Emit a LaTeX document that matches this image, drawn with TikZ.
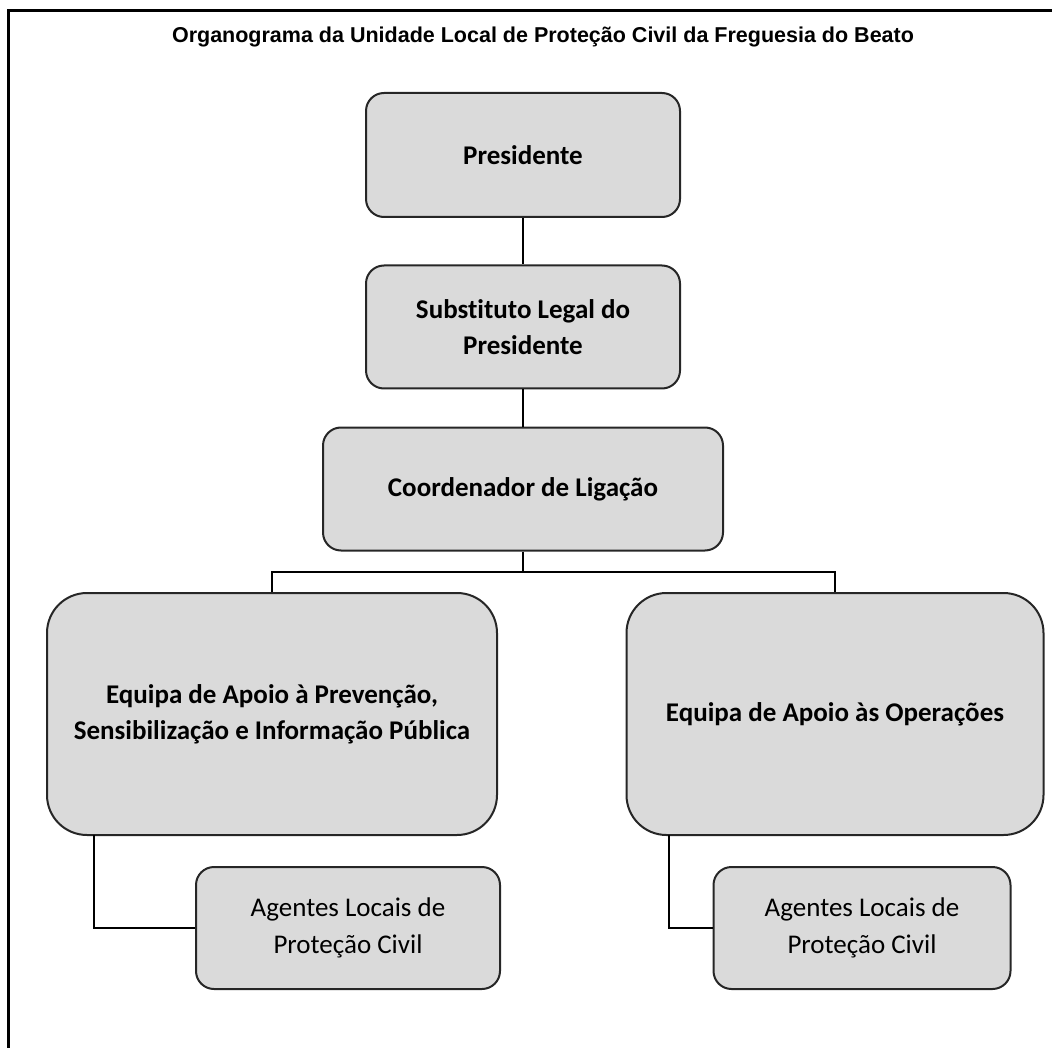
\documentclass[tikz,border=0pt]{standalone}
\usepackage{fontspec}
\setmainfont{Carlito}[Ligatures=NoCommon]
\newfontfamily\titlefont{Liberation Sans}
\usepackage{xcolor}
\usetikzlibrary{calc}
\definecolor{boxgrey}{HTML}{DADADA}
\definecolor{boxline}{HTML}{262626}
\tikzstyle{orgbox}=[draw=boxline, line width=2pt, fill=boxgrey, rounded corners=18pt, align=center, inner sep=0pt, font=\fontsize{27}{36}\selectfont\bfseries]
\tikzstyle{teambox}=[orgbox, rounded corners=40pt]
\tikzstyle{agentbox}=[orgbox, font=\fontsize{27}{37}\selectfont]
\tikzstyle{link}=[line width=2pt, black]

\begin{document}
\begin{tikzpicture}[x=1pt, y=-1pt]
\useasboundingbox (0,0) rectangle (1052,1048);
\clip (0,0) rectangle (1052,1048);
\draw[line width=3pt] (8,11) rectangle (1070,1070);
\node[font=\titlefont\bfseries\fontsize{21.5}{26}\selectfont] (title) at (543,37) {Organograma da Unidade Local de Proteção Civil da Freguesia do Beato};
% top of the chart
\node[orgbox, minimum width=314pt, minimum height=124pt] (pres) at (523,155) {Presidente};
\node[orgbox, minimum width=314pt, minimum height=123pt] (subst) at (523,327) {Substituto Legal do\\Presidente};
\node[orgbox, minimum width=400pt, minimum height=123pt] (coord) at (523,489) {Coordenador de Ligação};
% teams
\node[teambox, minimum width=450pt, minimum height=242pt] (lteam) at (272,714) {Equipa de Apoio à Prevenção,\\Sensibilização e Informação Pública};
\node[teambox, minimum width=417pt, minimum height=242pt] (rteam) at (835,714) {Equipa de Apoio às Operações};
\node[agentbox, minimum width=304pt, minimum height=122pt] (lagent) at (348,928) {Agentes Locais de\\Proteção Civil};
\node[agentbox, minimum width=297pt, minimum height=122pt] (ragent) at (862,928) {Agentes Locais de\\Proteção Civil};
\coordinate (bus) at (523,572);
\coordinate (ldrop) at (94,835);
\coordinate (rdrop) at (669,835);
\draw[link] (pres) -- (subst);
\draw[link] (subst) -- (coord);
\draw[link] (coord) -- (bus) -| (lteam);
\draw[link] (bus) -| (rteam);
\draw[link] (ldrop) |- (lagent);
\draw[link] (rdrop) |- (ragent);
\end{tikzpicture}
\end{document}
